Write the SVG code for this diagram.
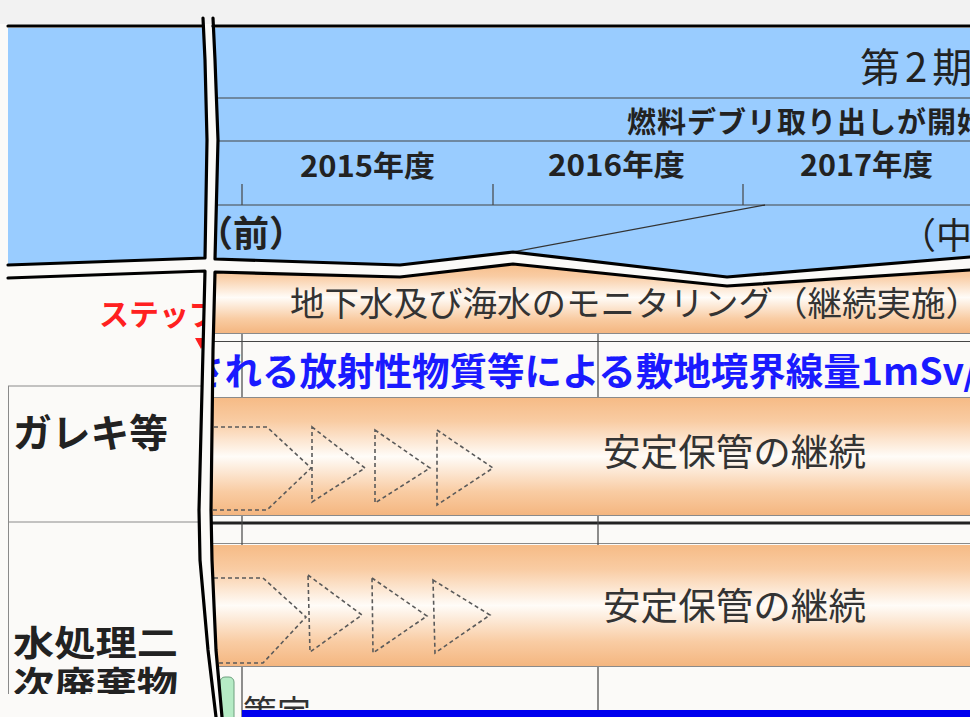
<svg xmlns="http://www.w3.org/2000/svg" width="970" height="717" viewBox="0 0 970 717">
<defs>
<linearGradient id="bar" x1="0" y1="0" x2="0" y2="1">
<stop offset="0" stop-color="#F6BB86"/>
<stop offset="0.2" stop-color="#F9CCA3"/>
<stop offset="0.5" stop-color="#FFFCF8"/>
<stop offset="0.8" stop-color="#F9CCA3"/>
<stop offset="1" stop-color="#F4B680"/>
</linearGradient>
<clipPath id="cTL"><polygon points="8,28 203,28 205,60 207,140 205,258 8,265"/></clipPath>
<clipPath id="cTR"><polygon points="213,28 215,60 218,140 215,259 400,265 513,252 727,277 970,257 970,28"/></clipPath>
<clipPath id="cBL"><polygon points="8,278 205,271 203,350 199,510 200,560 208,650 216,717 8,717"/></clipPath>
<clipPath id="cBR"><polygon points="215,272 400,277 513,264 727,286 970,270 970,717 222,717 216,650 212,560 211,510 213,350"/></clipPath>
</defs>
<style>
.t{font-family:"Noto Sans CJK JP","Noto Sans CJK SC",sans-serif}
.b{font-weight:bold}
.g{stroke:#454545;stroke-width:1.2;fill:none}
.lg{stroke:#8a8a8a;stroke-width:1;fill:none}
.d{fill:none;stroke:#5a5a5a;stroke-width:1.6;stroke-dasharray:4 3}
.k{fill:none;stroke:#000;stroke-width:3.2;stroke-linejoin:round;stroke-linecap:round}
.bar{fill:url(#bar)}
</style>
<rect width="970" height="717" fill="#fbfaf8"/>
<rect width="970" height="24" fill="#f2f2f2"/>

<g id="top-left" clip-path="url(#cTL)">
<rect x="0" y="20" width="220" height="260" fill="#99CCFF"/>
</g>

<g id="top-right">
<g clip-path="url(#cTR)">
<rect x="200" y="20" width="780" height="280" fill="#99CCFF"/>
<path class="g" d="M210,98 H970 M210,141 H970 M210,205 H970 M242,184 V205 M493,184 V205 M743,184 V205"/>
<path d="M470,260 L765,205" stroke="#333" stroke-width="1.3" fill="none"/>
<text class="t" x="860" y="82" font-size="40" fill="#222" letter-spacing="5">第2期</text>
<text class="t b" x="627" y="133" font-size="29" fill="#222" letter-spacing="1">燃料デブリ取り出しが開始</text>
<text class="t b" x="300" y="177" font-size="29" fill="#222" textLength="135" lengthAdjust="spacingAndGlyphs">2015年度</text>
<text class="t b" x="548" y="176" font-size="29" fill="#222" textLength="137" lengthAdjust="spacingAndGlyphs">2016年度</text>
<text class="t b" x="800" y="176" font-size="29" fill="#222" textLength="133" lengthAdjust="spacingAndGlyphs">2017年度</text>
<text class="t b" x="197" y="247" font-size="36" fill="#222">（前）</text>
<text class="t" x="900" y="249" font-size="36" fill="#222">（中</text>
</g>
</g>

<g id="bottom-left">
<g clip-path="url(#cBL)">
<rect x="0" y="260" width="220" height="460" fill="#fbfaf8"/>
<path class="lg" d="M8,386 H210 M8,522 H210 M8.5,386 V694"/>
<text class="t b" x="99" y="325" font-size="30" fill="#ff2020">ステップ</text>
<polygon points="195,338 207,338 201,349" fill="#ff2020"/>
<text class="t b" x="13" y="447" font-size="39" fill="#222" textLength="155" lengthAdjust="spacingAndGlyphs">ガレキ等</text>
<text class="t b" x="13" y="656" font-size="35" fill="#222" textLength="165" lengthAdjust="spacingAndGlyphs">水処理二</text>
<text class="t b" x="13" y="697" font-size="35" fill="#222" textLength="165" lengthAdjust="spacingAndGlyphs">次廃棄物</text>
<rect x="0" y="694" width="230" height="30" fill="#fbfaf8"/>
</g>
</g>

<g id="bottom-right">
<g clip-path="url(#cBR)">
<rect x="200" y="250" width="780" height="470" fill="#fbfaf8"/>
<rect class="bar" x="200" y="262" width="780" height="71"/>
<text class="t" x="290" y="316" font-size="34" fill="#333" textLength="690" lengthAdjust="spacingAndGlyphs">地下水及び海水のモニタリング（継続実施）</text>
<path class="lg" d="M200,333.5 H970 M200,397.5 H970"/>
<path class="g" d="M200,341.5 H970 M242,334 V397 M598,334 V397"/>
<text class="t b" x="187" y="385" font-size="37.5" fill="#1a1aff">される放射性物質等による敷地境界線量1mSv/</text>
<rect class="bar" x="200" y="398" width="780" height="117"/>
<path class="d" d="M200,427 H267 L311,468 L267,510 H200 M312,427 L365,468 L312,502 Z M375,430 L430,468 L375,503 Z M437,430 L493,468 L437,505 Z"/>
<text class="t" x="603" y="466" font-size="37" fill="#333" textLength="263" lengthAdjust="spacingAndGlyphs">安定保管の継続</text>
<path class="lg" d="M200,515.5 H970 M200,543.5 H970"/>
<path d="M200,523 H970" stroke="#222" stroke-width="3" fill="none"/>
<path class="g" d="M242,516 V545 M598,516 V545"/>
<rect class="bar" x="200" y="545" width="780" height="121"/>
<path class="d" d="M200,578 H263 L306,617 L263,663 H200 M308,575 L362,615 L310,652 Z M372,578 L427,616 L373,653 Z M433,580 L490,615 L435,653 Z"/>
<text class="t" x="603" y="620" font-size="37" fill="#333" textLength="263" lengthAdjust="spacingAndGlyphs">安定保管の継続</text>
<path class="lg" d="M200,666.5 H970"/>
<path class="g" d="M242,667 V717 M598,667 V717"/>
<rect x="220" y="677" width="14" height="50" rx="5" fill="#b5ebc5" stroke="#6f9f7f" stroke-width="1"/>
<text class="t" x="243" y="725" font-size="34" fill="#333">策定</text>
<rect x="242" y="710" width="730" height="8" fill="#0000ee"/>
</g>
</g>

<g id="break-lines">
<path class="k" d="M8,26 H203 M213,26 H970"/>
<path class="k" d="M203,18 L205,60 L207,140 L205,258 L8,265"/>
<path class="k" d="M213,18 L215,60 L218,140 L215,259 L400,265 L513,252 L727,277 L970,257"/>
<path class="k" d="M8,278 L205,271 L203,350 L199,510 L200,560 L208,650 L216,717"/>
<path class="k" d="M970,270 L727,286 L513,264 L400,277 L215,272 L213,350 L211,510 L212,560 L216,650 L222,717"/>
</g>
</svg>
